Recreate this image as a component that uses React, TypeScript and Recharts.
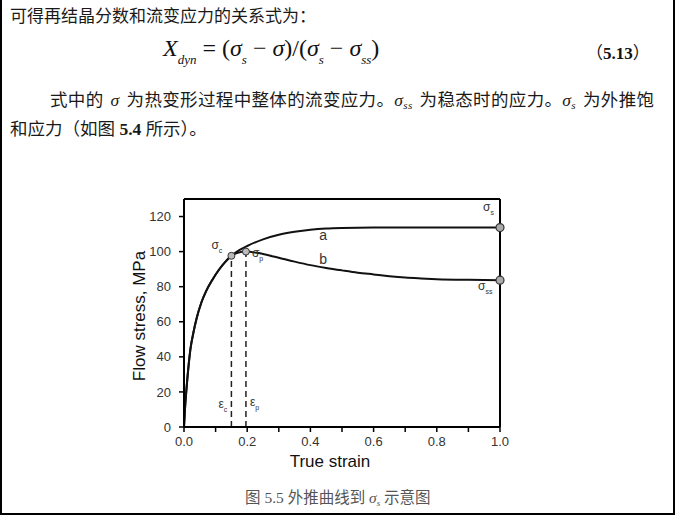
import React from 'react';
import { LineChart, Line, XAxis, YAxis, ReferenceLine, ReferenceDot } from 'recharts';

// ---- data ----
const strainA = [0, 0.003, 0.008, 0.015, 0.02, 0.03, 0.04, 0.055, 0.07, 0.09, 0.11, 0.13, 0.15, 0.175, 0.2, 0.25, 0.3, 0.35, 0.4, 0.45, 0.5, 0.6, 0.7, 0.8, 0.9, 1.0];
const stressA = [0, 10, 22, 36, 44, 54, 62, 71, 77.5, 84, 89.5, 94, 97.6, 100.8, 103.2, 107, 109.6, 111.3, 112.5, 113.2, 113.5, 113.7, 113.7, 113.7, 113.7, 113.7];

const strainB = [0, 0.003, 0.008, 0.015, 0.02, 0.03, 0.04, 0.055, 0.07, 0.09, 0.11, 0.13, 0.15, 0.17, 0.196, 0.23, 0.27, 0.3, 0.35, 0.4, 0.45, 0.5, 0.55, 0.6, 0.65, 0.7, 0.75, 0.8, 0.9, 1.0];
const stressB = [0, 10, 22, 36, 44, 54, 62, 71, 77.5, 84, 89.5, 94, 97.6, 99.3, 100, 99.3, 97.8, 96.5, 94.3, 92.3, 90.7, 89.3, 88, 87, 86, 85.2, 84.7, 84.3, 83.9, 83.7];

const xTicks = [0, 0.1, 0.2, 0.3, 0.4, 0.5, 0.6, 0.7, 0.8, 0.9, 1.0];
const yTicks = [0, 20, 40, 60, 80, 100, 120];
const yMax = 130;

const epsC = 0.15;
const sigmaC = 97.6;
const epsP = 0.196;
const sigmaP = 100;
const sigmaS = 113.7;
const sigmaSS = 83.7;

const dataA = strainA.map((x, i) => ({ x, y: stressA[i] }));
const dataB = strainB.map((x, i) => ({ x, y: stressB[i] }));

const SANS = "'Liberation Sans', Arial, sans-serif";
const SERIF = "'Liberation Serif', 'Times New Roman', serif";
const CJK = "'Liberation Serif', 'Noto Sans CJK SC', serif";
const CJK_ONLY = "'Noto Sans CJK SC', sans-serif";

const SubLabel = (props: any) => {
  const { viewBox, main, sub, dx = 0, dy = 0, size = 12, subSize = 7 } = props;
  const cx = viewBox.x + (viewBox.width || 0) / 2;
  const cy = viewBox.y + (viewBox.height || 0) / 2;
  return (
    <text x={cx + dx} y={cy + dy} fontFamily={SANS} fontSize={size} fill="#333">
      {main}
      {sub ? (
        <tspan fontSize={subSize} dy={4}>
          {sub}
        </tspan>
      ) : null}
    </text>
  );
};

const PlainLabel = (props: any) => {
  const { viewBox, text } = props;
  const cx = viewBox.x + (viewBox.width || 0) / 2;
  const cy = viewBox.y + (viewBox.height || 0) / 2;
  return (
    <text x={cx} y={cy} textAnchor="middle" fontFamily={SANS} fontSize={14} fill="#333">
      {text}
    </text>
  );
};

const YTitle = (props: any) => {
  const { viewBox } = props;
  const cx = viewBox.x - 1;
  const cy = viewBox.y + viewBox.height / 2 + 3;
  return (
    <text
      x={cx}
      y={cy}
      transform={`rotate(-90, ${cx}, ${cy})`}
      textAnchor="middle"
      dominantBaseline="central"
      fontFamily={SANS}
      fontSize={17}
      fill="#111"
    >
      Flow stress, MPa
    </text>
  );
};

const XTitle = (props: any) => {
  const { viewBox } = props;
  return (
    <text x={viewBox.x + 146} y={viewBox.y + 40} textAnchor="middle" fontFamily={SANS} fontSize={17} fill="#111">
      True strain
    </text>
  );
};

const abs = (l: number, t: number, extra: any = {}) => ({ position: 'absolute' as const, left: l, top: t, whiteSpace: 'nowrap' as const, ...extra });
const sub = (size: number, top: number) => ({ fontSize: size, position: 'relative' as const, top });
const gap = (w: number) => <span style={{ display: 'inline-block', width: w }} />;

export default function App() {
  return (
    <div style={{ position: 'absolute', left: 0, top: 0, width: 677, height: 516, background: '#fff', overflow: 'hidden' }}>
      <div style={{ position: 'absolute', left: 0, top: 0 }}>
        <LineChart width={677} height={516} margin={{ top: 199, right: 177, bottom: 59, left: 140 }}>
          <XAxis
            dataKey="x"
            type="number"
            domain={[0, 1]}
            ticks={xTicks}
            interval={0}
            tickFormatter={(v: number) => (Math.round(v * 10) % 2 === 0 ? v.toFixed(1) : '')}
            axisLine={{ stroke: '#000', strokeWidth: 2 }}
            tickLine={{ stroke: '#000', strokeWidth: 1.5 }}
            tickSize={5}
            tickMargin={5}
            tick={{ fontFamily: SANS, fontSize: 13, fill: '#333' }}
            height={30}
            allowDataOverflow
            label={<XTitle />}
          />
          <YAxis
            type="number"
            domain={[0, yMax]}
            ticks={yTicks}
            interval={0}
            axisLine={{ stroke: '#000', strokeWidth: 2 }}
            tickLine={{ stroke: '#000', strokeWidth: 1.5 }}
            tickSize={5}
            tickMargin={8}
            tick={{ fontFamily: SANS, fontSize: 13, fill: '#333' }}
            width={44}
            allowDataOverflow
            label={<YTitle />}
          />
          <ReferenceLine y={yMax} stroke="#000" strokeWidth={2} />
          <ReferenceLine x={1} stroke="#000" strokeWidth={2} />
          <ReferenceLine segment={[{ x: epsC, y: 0 }, { x: epsC, y: sigmaC }]} stroke="#222" strokeWidth={1.5} strokeDasharray="6 4" />
          <ReferenceLine segment={[{ x: epsP, y: 0 }, { x: epsP, y: sigmaP }]} stroke="#222" strokeWidth={1.5} strokeDasharray="6 4" />
          <Line data={dataA} dataKey="y" type="monotone" stroke="#111" strokeWidth={2} dot={false} isAnimationActive={false} />
          <Line data={dataB} dataKey="y" type="monotone" stroke="#111" strokeWidth={2} dot={false} isAnimationActive={false} />
          <ReferenceDot x={epsC} y={sigmaC} r={3.5} fill="#bbb" stroke="#333" strokeWidth={1} label={<SubLabel main="σ" sub="c" dx={-20} dy={-7} />} />
          <ReferenceDot x={epsP} y={sigmaP} r={3.5} fill="#bbb" stroke="#333" strokeWidth={1} label={<SubLabel main="σ" sub="p" dx={6} dy={5} />} />
          <ReferenceDot x={1} y={sigmaS} r={4} fill="#aaa" stroke="#333" strokeWidth={1.2} label={<SubLabel main="σ" sub="s" dx={-17} dy={-17} />} />
          <ReferenceDot x={1} y={sigmaSS} r={4} fill="#aaa" stroke="#333" strokeWidth={1.2} label={<SubLabel main="σ" sub="ss" dx={-22} dy={10} />} />
          <ReferenceDot x={0.44} y={106.4} r={0} fill="none" stroke="none" label={<PlainLabel text="a" />} />
          <ReferenceDot x={0.44} y={92.7} r={0} fill="none" stroke="none" label={<PlainLabel text="b" />} />
          <ReferenceDot x={epsC} y={10.8} r={0} fill="none" stroke="none" label={<SubLabel main="ε" sub="c" dx={-13} dy={0} />} />
          <ReferenceDot x={epsP} y={11.9} r={0} fill="none" stroke="none" label={<SubLabel main="ε" sub="p" dx={4} dy={0} />} />
        </LineChart>
      </div>

      {/* page frame */}
      <div style={{ position: 'absolute', left: 0, top: 0, width: 2, height: 515, background: '#000' }} />
      <div style={{ position: 'absolute', left: 673, top: 0, width: 2, height: 515, background: '#000' }} />
      <div style={{ position: 'absolute', left: 0, top: 513, width: 675, height: 2, background: '#000' }} />

      {/* text */}
      <div style={abs(10, 8, { fontFamily: CJK, fontSize: 17, lineHeight: '17.5px', color: '#1a1a1a' })}>可得再结晶分数和流变应力的关系式为：</div>

      <div style={abs(163, 33, { fontFamily: SERIF, fontSize: 24, lineHeight: '30px', color: '#111' })}>
        <i>X</i>
        <i style={sub(13, 8)}>dyn</i>
        {' = ('}
        <i>σ</i>
        <i style={sub(13, 8)}>s</i>
        {' − '}
        <i>σ</i>
        {')/('}
        <i>σ</i>
        <i style={sub(13, 8)}>s</i>
        {' − '}
        <i>σ</i>
        <i style={sub(13, 8)}>ss</i>
        {')'}
      </div>

      <div style={abs(586, 43, { fontSize: 17, lineHeight: '18px', color: '#111' })}>
        <span style={{ fontFamily: CJK_ONLY }}>（</span>
        <b style={{ fontFamily: SERIF }}>5.13</b>
        <span style={{ fontFamily: CJK_ONLY }}>）</span>
      </div>

      <div style={abs(50, 92, { fontFamily: CJK, fontSize: 17.5, lineHeight: '17.5px', color: '#1a1a1a', letterSpacing: 0.35 })}>
        式中的{gap(7)}<i>σ</i>{gap(7)}为热变形过程中整体的流变应力。<i>σ</i>
        <i style={sub(11, 3)}>ss</i>{gap(7)}为稳态时的应力。<i>σ</i>
        <i style={sub(11, 3)}>s</i>{gap(7)}为外推饱
      </div>
      <div style={abs(10, 121, { fontFamily: CJK, fontSize: 17.5, lineHeight: '17.5px', color: '#1a1a1a' })}>
        和应力（如图 <b>5.4</b> 所示）。
      </div>

      <div style={abs(245, 490, { fontFamily: CJK, fontSize: 15.5, lineHeight: '16px', color: '#555' })}>
        图 5.5 外推曲线到 <i>σ</i>
        <i style={sub(9, 3)}>s</i> 示意图
      </div>
    </div>
  );
}
